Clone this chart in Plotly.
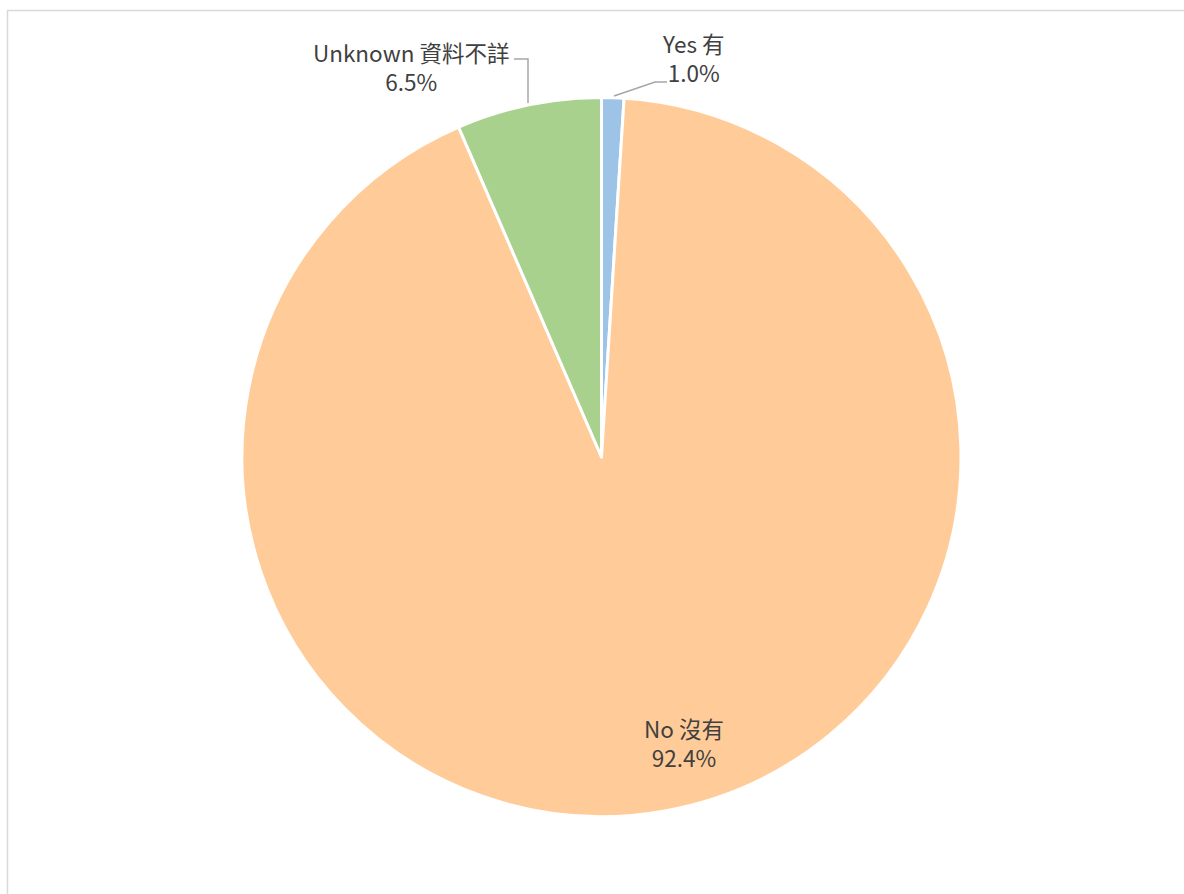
import plotly.graph_objects as go

W, H = 1184, 894

labels = ["Yes 有", "No 沒有", "Unknown 資料不詳"]
values = [1.0, 92.4, 6.5]
colors = ["#9DC3E6", "#FFCC99", "#A9D18E"]


def px(x, y):
    return x / W, 1 - y / H


fig = go.Figure()
fig.add_trace(go.Pie(
    labels=labels,
    values=values,
    sort=False,
    direction="clockwise",
    rotation=0,
    marker=dict(colors=colors, line=dict(color="white", width=3)),
    textinfo="none",
    hoverinfo="label+percent",
    showlegend=False,
    domain=dict(x=[242 / W, 961 / W], y=[77 / H, 797 / H]),
))

# label positions (pixels) and leader lines
label_pos = [(693, 58), (684, 742), (411, 66)]
font = dict(family="Noto Sans CJK TC, Open Sans, sans-serif", size=22.5, color="#404040")
for lab, val, (x, y) in zip(labels, values, label_pos):
    ax, ay = px(x, y)
    fig.add_annotation(x=ax, y=ay, xref="paper", yref="paper",
                       xanchor="center", yanchor="middle",
                       text=f"{lab}<br>{val:.1f}%", showarrow=False,
                       font=font, align="center")

leaders = [
    [(614, 96), (655, 82), (667, 82)],
    [(528, 103), (528, 59), (514, 59)],
]
for pts in leaders:
    path = "M " + " L ".join(f"{px(x, y)[0]} {px(x, y)[1]}" for x, y in pts)
    fig.add_shape(type="path", path=path, xref="paper", yref="paper",
                  line=dict(color="#A6A6A6", width=1.5))

# chart frame
fig.add_shape(type="rect", xref="paper", yref="paper",
              x0=7.5 / W, y0=-0.05, x1=1.05, y1=1 - 10.5 / H,
              line=dict(color="#D9D9D9", width=1.5))

fig.update_layout(
    width=W, height=H,
    margin=dict(l=0, r=0, t=0, b=0),
    paper_bgcolor="white",
    plot_bgcolor="white",
)

fig.write_html("out.html", config={"displayModeBar": False},
               post_script="document.body.style.margin='0';")
